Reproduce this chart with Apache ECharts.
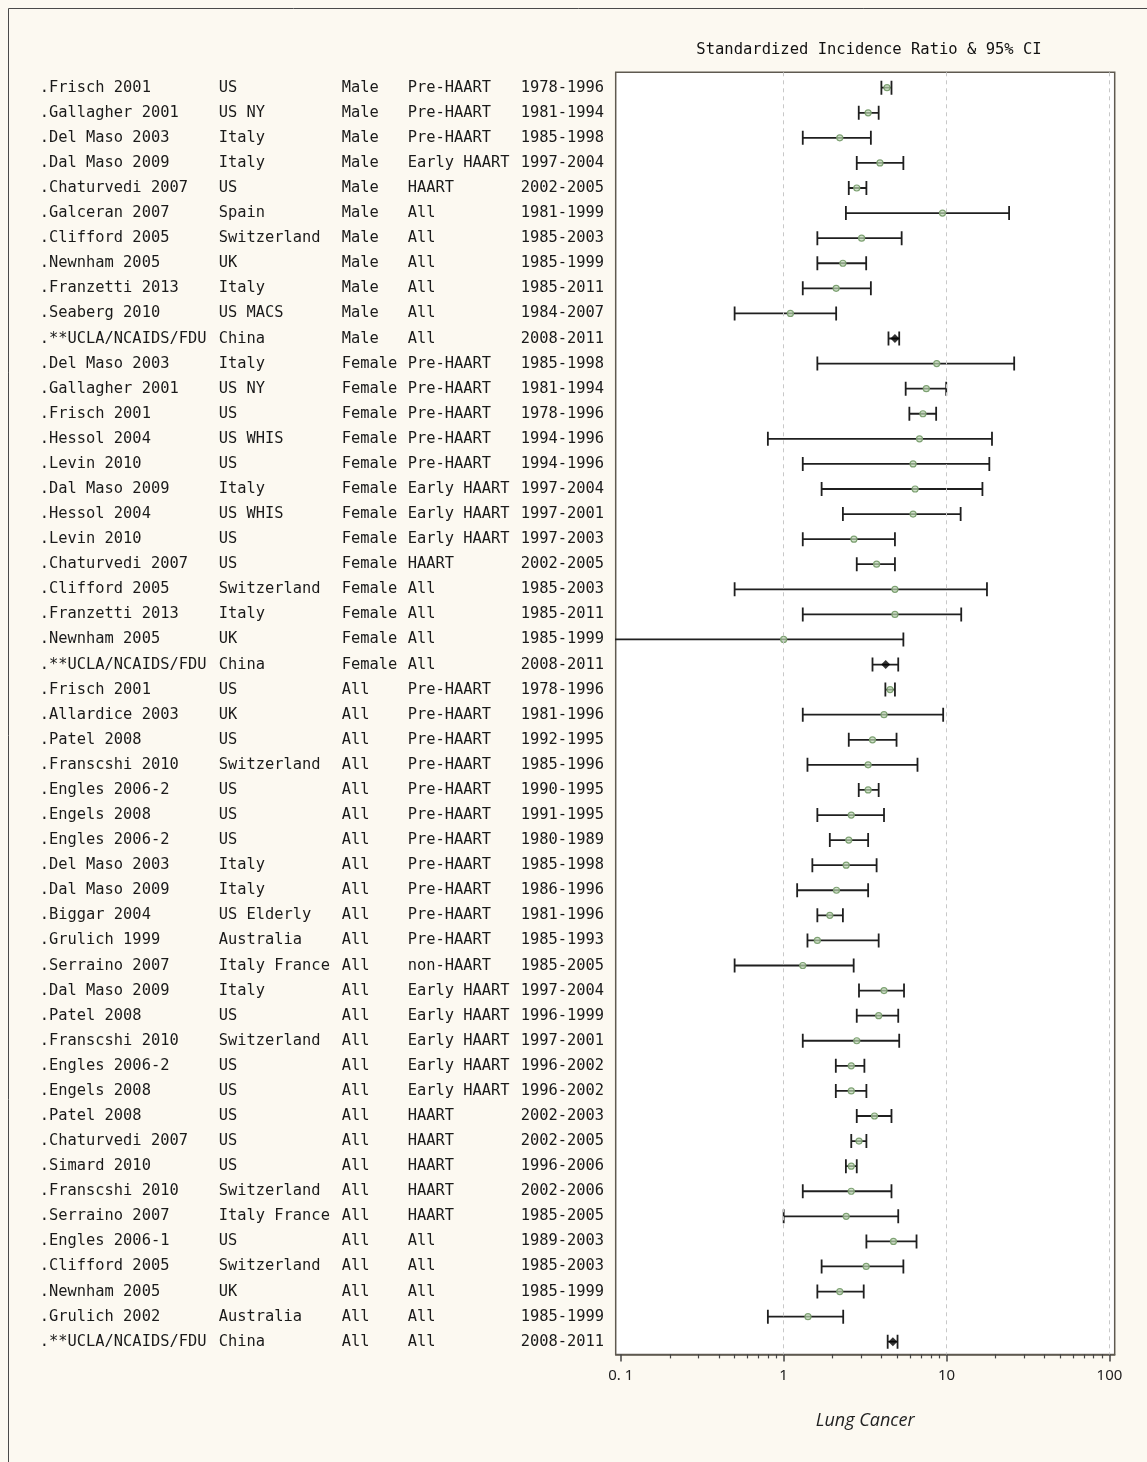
<!DOCTYPE html>
<html>
<head>
<meta charset="utf-8">
<script src="https://cdn.jsdelivr.net/npm/echarts@6/dist/echarts.min.js"></script>
<style>
  html, body { margin: 0; padding: 0; background: #fcf9f1; }
  #chart { width: 1147px; height: 1462px; }
</style>
</head>
<body>
<div id="chart"></div>
<script>
// rows, top to bottom
const studies = [
  'Frisch 2001', 'Gallagher 2001', 'Del Maso 2003', 'Dal Maso 2009', 'Chaturvedi 2007',
  'Galceran 2007', 'Clifford 2005', 'Newnham 2005', 'Franzetti 2013', 'Seaberg 2010',
  '**UCLA/NCAIDS/FDU', 'Del Maso 2003', 'Gallagher 2001', 'Frisch 2001', 'Hessol 2004',
  'Levin 2010', 'Dal Maso 2009', 'Hessol 2004', 'Levin 2010', 'Chaturvedi 2007',
  'Clifford 2005', 'Franzetti 2013', 'Newnham 2005', '**UCLA/NCAIDS/FDU', 'Frisch 2001',
  'Allardice 2003', 'Patel 2008', 'Franscshi 2010', 'Engles 2006-2', 'Engels 2008',
  'Engles 2006-2', 'Del Maso 2003', 'Dal Maso 2009', 'Biggar 2004', 'Grulich 1999',
  'Serraino 2007', 'Dal Maso 2009', 'Patel 2008', 'Franscshi 2010', 'Engles 2006-2',
  'Engels 2008', 'Patel 2008', 'Chaturvedi 2007', 'Simard 2010', 'Franscshi 2010',
  'Serraino 2007', 'Engles 2006-1', 'Clifford 2005', 'Newnham 2005', 'Grulich 2002',
  '**UCLA/NCAIDS/FDU'
];
const regions = [
  'US', 'US NY', 'Italy', 'Italy', 'US',
  'Spain', 'Switzerland', 'UK', 'Italy', 'US MACS',
  'China', 'Italy', 'US NY', 'US', 'US WHIS',
  'US', 'Italy', 'US WHIS', 'US', 'US',
  'Switzerland', 'Italy', 'UK', 'China', 'US',
  'UK', 'US', 'Switzerland', 'US', 'US',
  'US', 'Italy', 'Italy', 'US Elderly', 'Australia',
  'Italy France', 'Italy', 'US', 'Switzerland', 'US',
  'US', 'US', 'US', 'US', 'Switzerland',
  'Italy France', 'US', 'Switzerland', 'UK', 'Australia',
  'China'
];
const sexes = [
  'Male', 'Male', 'Male', 'Male', 'Male', 'Male', 'Male', 'Male', 'Male', 'Male', 'Male',
  'Female', 'Female', 'Female', 'Female', 'Female', 'Female', 'Female', 'Female', 'Female',
  'Female', 'Female', 'Female', 'Female',
  'All', 'All', 'All', 'All', 'All', 'All', 'All', 'All', 'All', 'All', 'All', 'All', 'All',
  'All', 'All', 'All', 'All', 'All', 'All', 'All', 'All', 'All', 'All', 'All', 'All', 'All', 'All'
];
const eras = [
  'Pre-HAART', 'Pre-HAART', 'Pre-HAART', 'Early HAART', 'HAART',
  'All', 'All', 'All', 'All', 'All',
  'All', 'Pre-HAART', 'Pre-HAART', 'Pre-HAART', 'Pre-HAART',
  'Pre-HAART', 'Early HAART', 'Early HAART', 'Early HAART', 'HAART',
  'All', 'All', 'All', 'All', 'Pre-HAART',
  'Pre-HAART', 'Pre-HAART', 'Pre-HAART', 'Pre-HAART', 'Pre-HAART',
  'Pre-HAART', 'Pre-HAART', 'Pre-HAART', 'Pre-HAART', 'Pre-HAART',
  'non-HAART', 'Early HAART', 'Early HAART', 'Early HAART', 'Early HAART',
  'Early HAART', 'HAART', 'HAART', 'HAART', 'HAART',
  'HAART', 'All', 'All', 'All', 'All',
  'All'
];
const periods = [
  '1978-1996', '1981-1994', '1985-1998', '1997-2004', '2002-2005',
  '1981-1999', '1985-2003', '1985-1999', '1985-2011', '1984-2007',
  '2008-2011', '1985-1998', '1981-1994', '1978-1996', '1994-1996',
  '1994-1996', '1997-2004', '1997-2001', '1997-2003', '2002-2005',
  '1985-2003', '1985-2011', '1985-1999', '2008-2011', '1978-1996',
  '1981-1996', '1992-1995', '1985-1996', '1990-1995', '1991-1995',
  '1980-1989', '1985-1998', '1986-1996', '1981-1996', '1985-1993',
  '1985-2005', '1997-2004', '1996-1999', '1997-2001', '1996-2002',
  '1996-2002', '2002-2003', '2002-2005', '1996-2006', '2002-2006',
  '1985-2005', '1989-2003', '1985-2003', '1985-1999', '1985-1999',
  '2008-2011'
];
const sir = [
  4.31, 3.30, 2.21, 3.90, 2.81, 9.44, 3.01, 2.31, 2.10, 1.10,
  4.82, 8.70, 7.51, 7.16, 6.82, 6.23, 6.41, 6.23, 2.70, 3.72,
  4.82, 4.82, 1.00, 4.23, 4.50, 4.13, 3.51, 3.30, 3.30, 2.60,
  2.51, 2.42, 2.11, 1.92, 1.61, 1.31, 4.13, 3.83, 2.81, 2.60,
  2.60, 3.61, 2.90, 2.60, 2.60, 2.42, 4.72, 3.21, 2.21, 1.41,
  4.68
];
const lower = [
  3.98, 2.89, 1.31, 2.81, 2.51, 2.41, 1.61, 1.61, 1.31, 0.50,
  4.40, 1.61, 5.61, 5.91, 0.80, 1.31, 1.71, 2.31, 1.31, 2.81,
  0.50, 1.31, 0.05, 3.51, 4.21, 1.31, 2.51, 1.40, 2.89, 1.61,
  1.92, 1.50, 1.21, 1.61, 1.40, 0.50, 2.90, 2.81, 1.31, 2.09,
  2.09, 2.81, 2.60, 2.41, 1.31, 1.00, 3.22, 1.71, 1.61, 0.80,
  4.35
];
const upper = [
  4.59, 3.83, 3.43, 5.43, 3.22, 24.2, 5.30, 3.21, 3.43, 2.10,
  5.12, 26.0, 9.95, 8.63, 19.0, 18.3, 16.6, 12.2, 4.82, 4.82,
  17.7, 12.3, 5.43, 5.05, 4.82, 9.53, 4.93, 6.63, 3.83, 4.13,
  3.30, 3.72, 3.30, 2.31, 3.83, 2.69, 5.48, 5.05, 5.12, 3.13,
  3.22, 4.59, 3.22, 2.81, 4.59, 5.05, 6.54, 5.43, 3.10, 2.32,
  5.00
];
const majorTicks = [0.1, 1, 10, 100];
const tickLabels = ['0. 1', '1', '10', '100'];
const minorTicks = [0.2, 0.3, 0.4, 0.5, 0.6, 0.7, 0.8, 0.9, 2, 3, 4, 5, 6, 7, 8, 9,
  20, 30, 40, 50, 60, 70, 80, 90];
const gridLines = [1, 10, 100];

const lg = Math.log10;
const rows = studies.map((s, i) => i);
const isOwn = i => studies[i].startsWith('**');

const monoFont = '"DejaVu Sans Mono", "Liberation Mono", monospace';
const xMin = -1.031, xMax = 2.032;
const textColor = '#1a1a1a';

const chart = echarts.init(document.getElementById('chart'));

const option = {
  backgroundColor: '#fcf9f1',
  animation: false,
  title: {
    text: 'Standardized Incidence Ratio & 95% CI',
    left: 864,
    top: 37,
    textAlign: 'center',
    textStyle: { fontFamily: monoFont, fontSize: 15.5, fontWeight: 'normal', color: '#111' }
  },
  graphic: [{
    type: 'rect',
    left: 6, top: 6,
    shape: { width: 1160, height: 1480 },
    style: { fill: 'none', stroke: '#4a4a4a', lineWidth: 1 },
    z: -1
  }],
  grid: {
    left: 615.7, top: 72.3, right: 32.3, bottom: 107.6,
    show: true,
    backgroundColor: '#ffffff',
    borderColor: '#5f5a50',
    borderWidth: 1.5
  },
  xAxis: [{
    type: 'value',
    position: 'bottom',
    min: xMin, max: xMax,
    axisLine: { show: true, onZero: false, lineStyle: { color: '#5f5a50', width: 1.5 } },
    axisTick: { show: true, length: 7, customValues: majorTicks.map(lg), lineStyle: { color: '#444', width: 1.5 } },
    axisLabel: {
      customValues: majorTicks.map(lg),
      formatter: v => tickLabels[majorTicks.findIndex(t => Math.abs(lg(t) - v) < 1e-6)],
      margin: 14,
      fontFamily: '"Noto Sans", sans-serif', fontSize: 15, color: '#222'
    },
    splitLine: { show: false },
    name: 'Lung Cancer',
    nameLocation: 'middle',
    nameGap: 57,
    nameTextStyle: { fontFamily: '"Open Sans", "Noto Sans", sans-serif', fontStyle: 'italic', fontSize: 18, color: '#222' }
  }, {
    type: 'value',
    position: 'bottom',
    min: xMin, max: xMax,
    axisLine: { show: false, onZero: false },
    axisTick: { show: true, length: 4, customValues: minorTicks.map(lg), lineStyle: { color: '#444', width: 1.2 } },
    axisLabel: { show: false },
    splitLine: { show: false }
  }],
  yAxis: {
    type: 'value',
    inverse: true,
    min: -0.614, max: 50.506,
    axisLine: { show: false },
    axisTick: { show: false },
    splitLine: { show: false },
    axisLabel: {
      customValues: rows,
      align: 'left',
      margin: 576,
      formatter: v => '{a|.' + studies[v] + '}{b|' + regions[v] + '}{c|' + sexes[v] + '}{d|' + eras[v] + '}{e|' + periods[v] + '}',
      rich: {
        a: { width: 179, fontFamily: monoFont, fontSize: 15.4, color: textColor },
        b: { width: 123, fontFamily: monoFont, fontSize: 15.4, color: textColor },
        c: { width: 66, fontFamily: monoFont, fontSize: 15.4, color: textColor },
        d: { width: 113, fontFamily: monoFont, fontSize: 15.4, color: textColor },
        e: { fontFamily: monoFont, fontSize: 15.4, color: textColor }
      }
    }
  },
  series: [{
    type: 'scatter',
    data: [],
    silent: true,
    z: 1,
    markLine: {
      silent: true,
      symbol: 'none',
      label: { show: false },
      lineStyle: { color: '#c8c8c8', type: [4, 4], width: 1 },
      data: gridLines.map(g => ({ xAxis: lg(g) }))
    }
  }, {
    type: 'custom',
    clip: true,
    z: 3,
    encode: { x: [0, 1], y: 2 },
    data: rows.map(i => [lg(lower[i]), lg(upper[i]), i]),
    renderItem: (params, api) => {
      const a = api.coord([api.value(0), api.value(2)]);
      const b = api.coord([api.value(1), api.value(2)]);
      const h = 7;
      const st = { stroke: '#1f1f1f', lineWidth: 1.8 };
      return {
        type: 'group',
        children: [
          { type: 'line', shape: { x1: a[0], y1: a[1], x2: b[0], y2: b[1] }, style: st },
          { type: 'line', shape: { x1: a[0], y1: a[1] - h, x2: a[0], y2: a[1] + h }, style: st },
          { type: 'line', shape: { x1: b[0], y1: b[1] - h, x2: b[0], y2: b[1] + h }, style: st }
        ]
      };
    }
  }, {
    type: 'scatter',
    z: 4,
    symbol: 'circle',
    symbolSize: 6,
    itemStyle: { color: 'rgba(190,215,180,0.7)', borderColor: '#7ea173', borderWidth: 1.2, opacity: 1 },
    data: rows.filter(i => !isOwn(i)).map(i => [lg(sir[i]), i])
  }, {
    type: 'scatter',
    z: 4,
    symbol: 'diamond',
    symbolSize: 9,
    itemStyle: { color: '#000' },
    data: rows.filter(isOwn).map(i => [lg(sir[i]), i])
  }]
};

chart.setOption(option);
</script>
</body>
</html>
